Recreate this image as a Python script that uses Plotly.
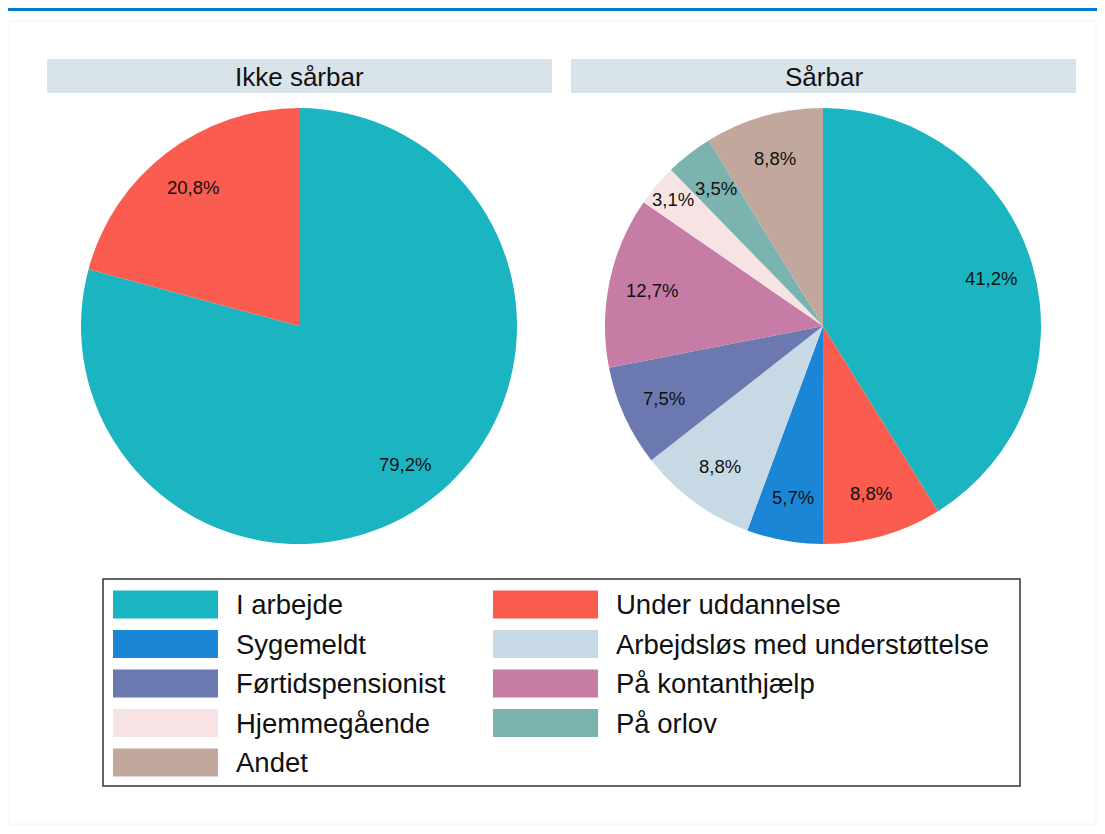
import math
import plotly.graph_objects as go

W, H = 1105, 834

categories = ["I arbejde", "Under uddannelse", "Sygemeldt", "Arbejdsløs med understøttelse",
              "Førtidspensionist", "På kontanthjælp", "Hjemmegående", "På orlov", "Andet"]
colors = ["#1ab5c0", "#fa5c4f", "#1b86d6", "#c8d9e6", "#6b79b0", "#c67ca4", "#f7e3e3", "#7ab3b0", "#c2a79c"]

# order of slices, clockwise from 12 o'clock
left_labels = ["I arbejde", "Under uddannelse"]
left_values = [79.2, 20.8]
right_labels = ["I arbejde", "Under uddannelse", "Sygemeldt", "Arbejdsløs med understøttelse",
                "Førtidspensionist", "På kontanthjælp", "Hjemmegående", "På orlov", "Andet"]
right_values = [41.2, 8.8, 5.7, 8.8, 7.5, 12.7, 3.1, 3.5, 8.8]

panel_titles = ["Ikke sårbar", "Sårbar"]

cmap = dict(zip(categories, colors))
FONT = "Liberation Sans, Arial, sans-serif"
OFF = 8  # page body margin


def px(x):
    return (x - OFF) / W


def py(y):
    return 1 - (y - OFF) / H


fig = go.Figure()

pies = [(left_labels, left_values, 299), (right_labels, right_values, 823)]
R = 218
CY = 326
annotations = []
for labels, values, cx in pies:
    fig.add_trace(go.Pie(
        labels=labels, values=values, sort=False, direction="clockwise", rotation=0,
        marker=dict(colors=[cmap[l] for l in labels], line=dict(width=0)),
        textinfo="none",
        domain=dict(x=[px(cx - R), px(cx + R)], y=[py(CY + R), py(CY - R)]),
        showlegend=False, hoverinfo="label+value",
    ))
    total = sum(values)
    cum = 0.0
    for v in values:
        mid = (cum + v / 2) / total * 2 * math.pi
        cum += v
        rf = 0.8 if v / total > 0.033 else 0.9
        lx = cx + rf * R * math.sin(mid)
        ly = CY - rf * R * math.cos(mid)
        annotations.append(dict(text=f"{v:.1f}%".replace(".", ","), xref="paper", yref="paper",
                                x=px(lx), y=py(ly), showarrow=False, xanchor="center", yanchor="middle",
                                font=dict(family=FONT, size=18.5, color="#111111")))

shapes = []
# top blue rule and faint frame
shapes.append(dict(type="rect", xref="paper", yref="paper", x0=px(9), x1=px(1096), y0=py(824), y1=py(21),
                   line=dict(color="#f2f2f2", width=1), fillcolor="rgba(0,0,0,0)", layer="below"))
shapes.append(dict(type="rect", xref="paper", yref="paper", x0=px(8), x1=px(1113), y0=py(11), y1=py(6),
                   line=dict(width=0), fillcolor="#0077d0"))

# panel headers
for title, (x0, x1) in zip(panel_titles, [(47, 552), (571, 1076)]):
    shapes.append(dict(type="rect", xref="paper", yref="paper", x0=px(x0), x1=px(x1), y0=py(93), y1=py(59),
                       line=dict(width=0), fillcolor="#d9e4ea", layer="below"))
    annotations.append(dict(text=title, xref="paper", yref="paper", x=px((x0 + x1) / 2), y=py(77),
                            showarrow=False, xanchor="center", yanchor="middle",
                            font=dict(family=FONT, size=26, color="#111111")))

# legend box
shapes.append(dict(type="rect", xref="paper", yref="paper", x0=px(103), x1=px(1020), y0=py(786), y1=py(579),
                   line=dict(color="#333333", width=1.5), fillcolor="white", layer="below"))
row_y = [604.5, 644, 683.5, 723, 762.5]
col_x = [113, 493]
for i, cat in enumerate(categories):
    r, c = divmod(i, 2)
    x0 = col_x[c]
    yc = row_y[r]
    shapes.append(dict(type="rect", xref="paper", yref="paper", x0=px(x0), x1=px(x0 + 105),
                       y0=py(yc + 14), y1=py(yc - 14), line=dict(width=0), fillcolor=cmap[cat]))
    annotations.append(dict(text=cat, xref="paper", yref="paper", x=px(x0 + 121), y=py(yc),
                            showarrow=False, xanchor="left", yanchor="middle",
                            font=dict(family=FONT, size=27.5, color="#111111")))

fig.update_layout(
    width=W, height=H, margin=dict(l=0, r=0, t=0, b=0),
    paper_bgcolor="white", plot_bgcolor="white",
    separators=",.",
    shapes=shapes, annotations=annotations,
    font=dict(family=FONT),
)

fig.write_html("out.html")
